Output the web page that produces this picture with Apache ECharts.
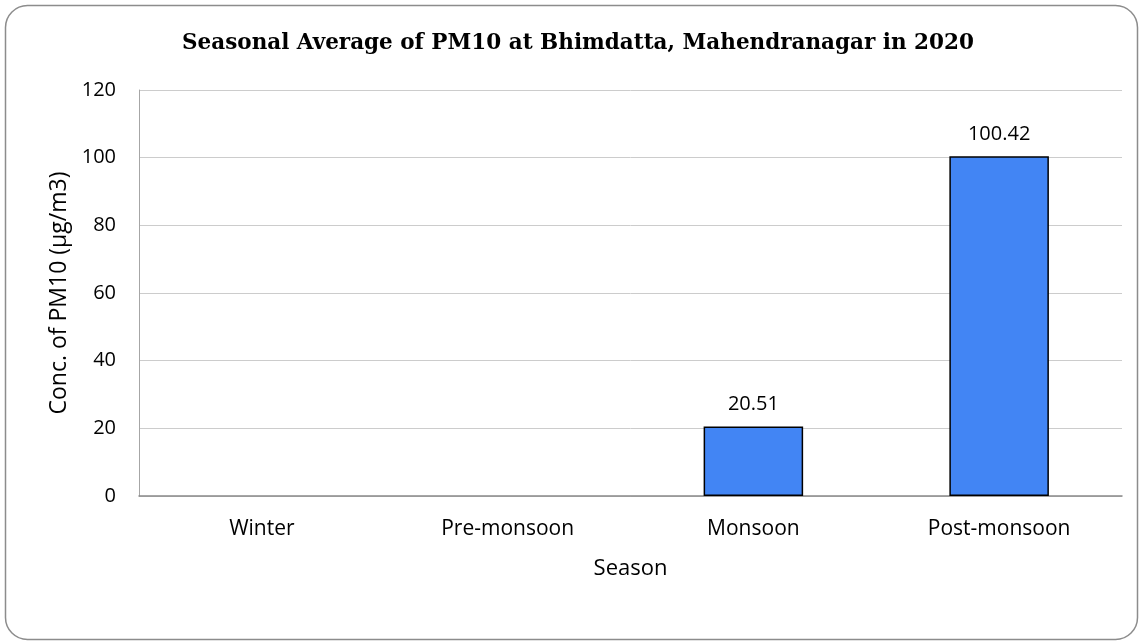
<!DOCTYPE html>
<html>
<head>
<meta charset="utf-8">
<script src="https://cdn.jsdelivr.net/npm/echarts@6/dist/echarts.min.js"></script>
<style>
html,body{margin:0;padding:0;background:#fff;}
#chart{width:1143px;height:643px;}
</style>
</head>
<body>
<div id="chart"></div>
<script>
// 季节和数值
var seasons = ['Winter', 'Pre-monsoon', 'Monsoon', 'Post-monsoon'];
var pm10 = ['-', '-', 20.51, 100.42];
var yTicks = { min: 0, max: 120, step: 20 };

var myChart = echarts.init(document.getElementById('chart'));

var option = {
	backgroundColor: '#fff',
	animation: false,
	graphic: [{
		type: 'rect',
		shape: { x: 5.5, y: 5.5, width: 1132, height: 634, r: 22 },
		style: { fill: 'none', stroke: '#8c8c8c', lineWidth: 1.5 },
		z: -1
	}],
	title: {
		text: 'Seasonal Average of PM10 at Bhimdatta, Mahendranagar in 2020',
		left: 573,
		top: 27,
		textAlign: 'center',
		textStyle: {
			fontFamily: 'DejaVu Serif',
			fontWeight: 'bold',
			fontSize: 21.5,
			color: '#000'
		}
	},
	grid: {
		left: 139,
		right: 21,
		top: 90,
		bottom: 147,
		containLabel: false
	},
	xAxis: {
		type: 'category',
		data: seasons,
		name: 'Season',
		nameLocation: 'middle',
		nameGap: 62,
		nameTextStyle: { fontFamily: 'Open Sans', fontSize: 22, color: '#000' },
		axisLine: { lineStyle: { color: '#898989', width: 1.5 } },
		axisTick: { show: false },
		axisLabel: { fontFamily: 'Open Sans', fontSize: 21, color: '#000', margin: 23 }
	},
	yAxis: {
		type: 'value',
		min: yTicks.min,
		max: yTicks.max,
		interval: yTicks.step,
		name: 'Conc. of PM10 (µg/m3)',
		nameLocation: 'middle',
		nameGap: 67,
		nameTextStyle: { fontFamily: 'Open Sans', fontSize: 23, color: '#000' },
		axisLine: { show: true, lineStyle: { color: '#a6a6a6', width: 1 } },
		axisTick: { show: false },
		axisLabel: { fontFamily: 'Open Sans', fontSize: 20, color: '#000', margin: 23 },
		splitLine: { lineStyle: { color: '#cccccc', width: 1 } }
	},
	series: [{
		type: 'bar',
		data: pm10,
		barWidth: '40.5%',
		itemStyle: { color: '#4285f4', borderColor: '#000', borderWidth: 1.5 },
		label: {
			show: true,
			position: 'top',
			distance: 12,
			fontFamily: 'Open Sans',
			fontSize: 20,
			color: '#000',
			formatter: function (p) { return p.value.toFixed(2); }
		}
	}]
};

myChart.setOption(option);
</script>
</body>
</html>
